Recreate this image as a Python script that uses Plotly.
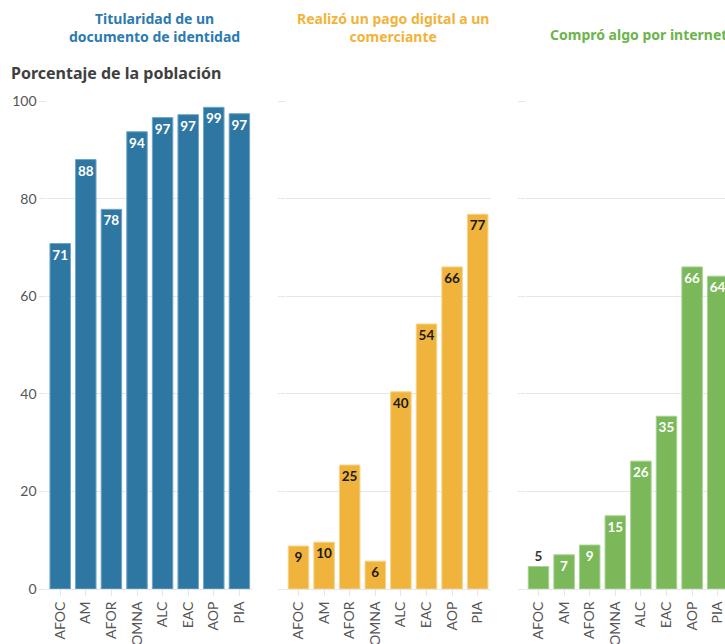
import plotly.graph_objects as go

categories = ["AFOC", "AM", "AFOR", "OMNA", "ALC", "EAC", "AOP", "PIA"]
identidad = [70.8, 88.0, 77.8, 93.7, 96.6, 97.2, 98.7, 97.4]
pago_digital = [8.8, 9.6, 25.4, 5.7, 40.4, 54.3, 66.0, 76.8]
compra_internet = [4.6, 7.0, 9.0, 15.0, 26.2, 35.4, 66.0, 64.1]
panel_titles = ["Titularidad de un<br>documento de identidad",
                "Realizó un pago digital a un<br>comerciante",
                "Compró algo por internet"]
y_ticks = [0, 20, 40, 60, 80, 100]

W, H = 725, 644
ML, MR, MT, MB = 47, 0, 101, 55
PW = W - ML - MR
PH = H - MT - MB

blue, orange, green = "#2f77a3", "#f0b43c", "#7ab85a"
blue_t, orange_t, green_t = "#2b7bb0", "#f2b33a", "#6cb44c"
grid = "#e6e6e6"
FONT = "Lato"
TFONT = "Noto Sans"

fig = go.Figure()

def add_bars(vals, color, edge, axis, txtcolors, positions):
    fig.add_trace(go.Bar(
        x=categories, y=vals, xaxis="x" + axis, yaxis="y" + axis,
        marker=dict(color=color, line=dict(color=edge, width=1)),
        text=[str(round(v)) for v in vals],
        textposition=positions, insidetextanchor="end", textangle=0,
        constraintext="none",
        textfont=dict(family=FONT, size=13.5, color=txtcolors, weight="bold"),
        outsidetextfont=dict(family=FONT, size=13.5, color="#333333", weight="bold"),
        showlegend=False,
    ))

add_bars(identidad, blue, "#6fa6c8", "", ["white"] * 8, ["inside"] * 8)
add_bars(pago_digital, orange, "#f6d28a", "2", ["#1a1a1a"] * 8, ["inside"] * 8)
add_bars(compra_internet, green, "#a8d190", "3", ["white"] * 8,
         ["outside"] + ["inside"] * 7)

# domains in pixels
p1 = (47.4, 252.2)
p2 = (285.7, 490.5)
p3 = (525.7, 725.0)
def dom(p):
    return [(p[0] - ML) / PW, (p[1] - ML) / PW]

cat_w = (p1[1] - p1[0]) / 8.0
r3_end = -0.5 + (p3[1] - p3[0]) / cat_w

xcommon = dict(tickangle=-90, ticks="outside", ticklen=6, tickcolor=grid,
               tickfont=dict(family=FONT, size=14, color="#555555"),
               showgrid=False, showline=False, zeroline=False,
               fixedrange=True)
ycommon = dict(range=[0, 100], tickvals=y_ticks, gridcolor=grid, gridwidth=1,
               zeroline=True, zerolinecolor=grid, zerolinewidth=1,
               ticks="outside", ticklen=7, tickcolor=grid, showline=False,
               tickfont=dict(family=FONT, size=14, color="#555555"))

fig.update_layout(
    width=W, height=H,
    margin=dict(l=ML, r=MR, t=MT, b=MB, autoexpand=False),
    paper_bgcolor="white", plot_bgcolor="white",
    bargap=0.2,
    xaxis=dict(domain=dom(p1), range=[-0.5, 7.5], anchor="y", **xcommon),
    xaxis2=dict(domain=dom(p2), range=[-0.5, 7.5], anchor="y2", **xcommon),
    xaxis3=dict(domain=dom(p3), range=[-0.5, r3_end], anchor="y3", **xcommon),
    yaxis=dict(anchor="x", showticklabels=True, **ycommon),
    yaxis2=dict(anchor="x2", showticklabels=False, **ycommon),
    yaxis3=dict(anchor="x3", showticklabels=False, **ycommon),
)

def py(ypix):
    return 1 + (MT - ypix) / PH
def px(xpix):
    return (xpix - ML) / PW

anns = [
    (panel_titles[0], 154, 27, blue_t),
    (panel_titles[1], 393, 27, orange_t),
    (panel_titles[2], 638, 35, green_t),
]
for text, xp, yp, col in anns:
    fig.add_annotation(xref="paper", yref="paper", showarrow=False,
                       xanchor="center", yanchor="middle", text=text,
                       x=px(xp), y=py(yp), align="center",
                       font=dict(family=TFONT, size=14, color=col,
                                 weight="bold"))

fig.add_annotation(xref="paper", yref="paper", showarrow=False,
                   xanchor="left", yanchor="middle",
                   text="Porcentaje de la población", x=px(9), y=py(73),
                   font=dict(family=TFONT, size=16, color="#404040", weight="bold"))

fig.write_html("out.html")
